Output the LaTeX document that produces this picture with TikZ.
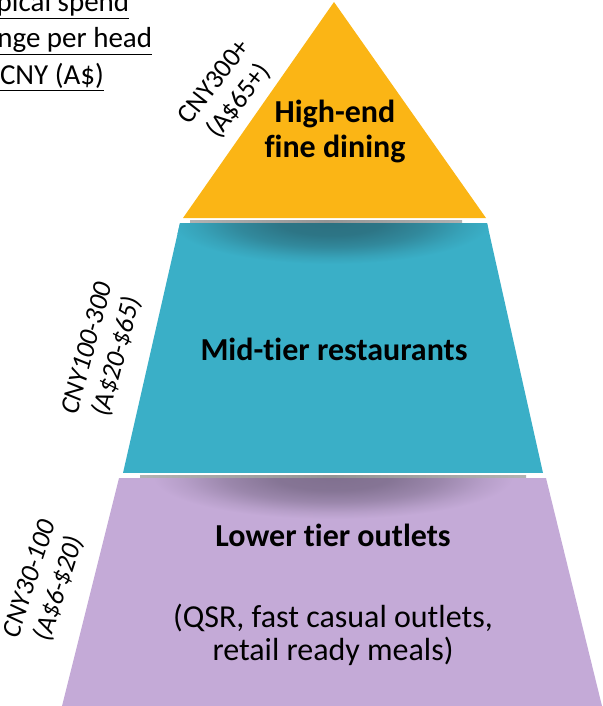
\documentclass[tikz,border=0pt]{standalone}
\usepackage{fontspec}
\setmainfont{Carlito}[Ligatures=NoCommon]
\usetikzlibrary{shadings}
\definecolor{topor}{RGB}{251,181,21}
\definecolor{midtl}{RGB}{58,175,199}
\definecolor{midtldk}{RGB}{44,112,128}
\definecolor{lowpu}{RGB}{196,170,215}
\definecolor{lowpudk}{RGB}{128,112,143}
\pgfdeclareradialshading{tlshadow}{\pgfpoint{0bp}{0bp}}{color(0bp)=(midtldk); color(8bp)=(midtldk!92!midtl); color(15bp)=(midtldk!60!midtl); color(21bp)=(midtldk!20!midtl); color(25bp)=(midtl); color(50bp)=(midtl)}
\pgfdeclareradialshading{pushadow}{\pgfpoint{0bp}{0bp}}{color(0bp)=(lowpudk); color(8bp)=(lowpudk!92!lowpu); color(15bp)=(lowpudk!60!lowpu); color(21bp)=(lowpudk!20!lowpu); color(25bp)=(lowpu); color(50bp)=(lowpu)}
\pgfdeclarehorizontalshading{gapline}{100bp}{color(0bp)=(white); color(25bp)=(black!30); color(50bp)=(black!42); color(75bp)=(black!30); color(100bp)=(white)}
\tikzset{
  tiertext/.style={font=\fontsize{32}{36}\selectfont\bfseries, align=center, anchor=base},
  subtext/.style={font=\fontsize{32}{36}\selectfont, align=center, anchor=base},
  pricelabel/.style={font=\fontsize{27}{31}\selectfont, align=center, inner sep=0pt},
  titletext/.style={font=\fontsize{29}{37}\selectfont, anchor=base},
}
\begin{document}
\begin{tikzpicture}[x=1pt,y=-1pt]
\useasboundingbox (0,0) rectangle (602,706);
\clip (0,0) rectangle (602,706);
% tiers
\fill[topor] (334,2) -- (486,218) -- (183,218) -- cycle;
\path[shading=gapline] (190,220.5) rectangle (462,222.5);
\begin{scope}
  \clip (180,223) -- (487,223) -- (543,473) -- (123,473) -- cycle;
  \fill[midtl] (120,223) rectangle (550,473);
  \path[shading=tlshadow] (331,222) ellipse [x radius=160, y radius=42];
\end{scope}
\path[shading=gapline] (140,475.5) rectangle (526,477.5);
\begin{scope}
  \clip (119,478) -- (546,478) -- (602,706) -- (62,706) -- cycle;
  \fill[lowpu] (60,478) rectangle (602,706);
  \path[shading=pushadow] (333,477) ellipse [x radius=180, y radius=42];
\end{scope}
% tier texts
\node[tiertext] (high1) at (335,122) {High-end};
\node[tiertext] (high2) at (335,157) {fine dining};
\node[tiertext] (mid) at (334,360) {Mid-tier restaurants};
\node[tiertext] (low) at (333,546) {Lower tier outlets};
\node[subtext] (low2) at (333,627) {(QSR, fast casual outlets,};
\node[subtext] (low3) at (333,660) {retail ready meals)};
% price labels
\node[pricelabel, rotate=52] (ptop) at (227,92) {CNY300+\\(A\$65+)};
\node[pricelabel, rotate=75, font=\fontsize{27}{31}\selectfont\itshape] (pmid) at (103,353) {CNY100-300\\(A\$20-\$65)};
\node[pricelabel, rotate=72, font=\fontsize{27}{31}\selectfont\itshape] (plow) at (45,584) {CNY30-100\\(A\$6-\$20)};
% title (cut off at the left edge, as in the reference)
\node[titletext] (t1) at (50,12) {\underline{Typical spend}};
\node[titletext] (t2) at (63,48) {\underline{range per head}};
\node[titletext] (t3) at (52,85) {\underline{CNY (A\$)}};
\end{tikzpicture}
\end{document}
